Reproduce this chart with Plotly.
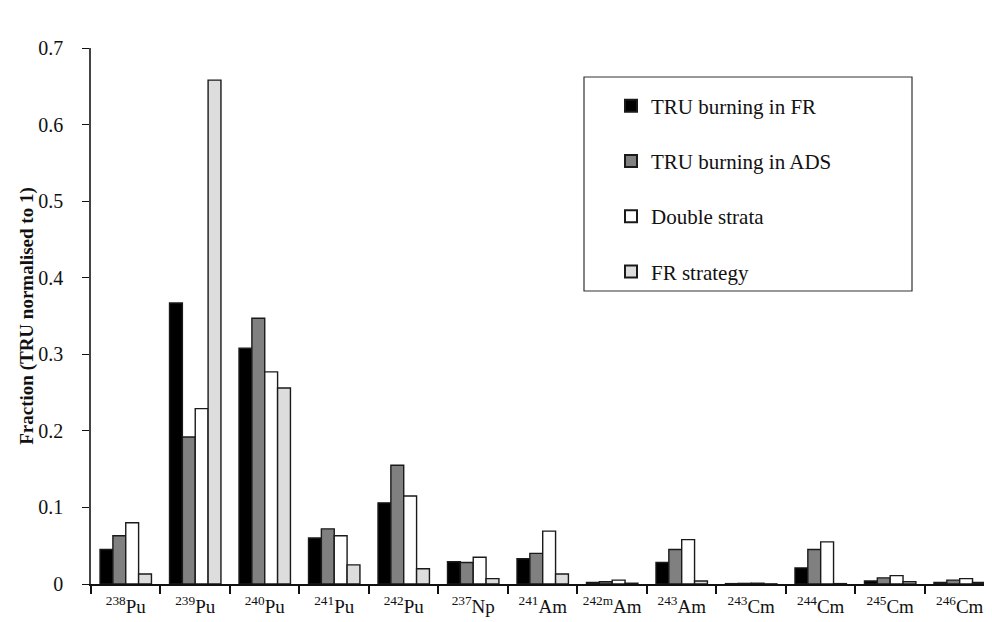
import plotly.graph_objects as go

# nuclides on the x axis
nuclides = ["<sup>238</sup>Pu", "<sup>239</sup>Pu", "<sup>240</sup>Pu", "<sup>241</sup>Pu",
            "<sup>242</sup>Pu", "<sup>237</sup>Np", "<sup>241</sup>Am", "<sup>242m</sup>Am",
            "<sup>243</sup>Am", "<sup>243</sup>Cm", "<sup>244</sup>Cm", "<sup>245</sup>Cm",
            "<sup>246</sup>Cm"]

# fractions (TRU normalised to 1)
tru_fr = [0.045, 0.367, 0.308, 0.060, 0.106, 0.029, 0.033, 0.002, 0.028, 0.0005, 0.021, 0.004, 0.002]
tru_ads = [0.063, 0.192, 0.347, 0.072, 0.155, 0.028, 0.040, 0.003, 0.045, 0.0008, 0.045, 0.008, 0.005]
double_strata = [0.080, 0.229, 0.277, 0.063, 0.115, 0.035, 0.069, 0.005, 0.058, 0.001, 0.055, 0.011, 0.007]
fr_strategy = [0.013, 0.658, 0.256, 0.025, 0.020, 0.007, 0.013, 0.001, 0.004, 0.0002, 0.0005, 0.003, 0.002]

series = [
    ("TRU burning in FR", tru_fr, "#000000"),
    ("TRU burning in ADS", tru_ads, "#808080"),
    ("Double strata", double_strata, "#ffffff"),
    ("FR strategy", fr_strategy, "#dddddd"),
]

FONT = "Liberation Serif, Times New Roman, serif"
PLOT_W = 893  # plot area width in px (976 - 83)

fig = go.Figure()
for name, vals, col in series:
    fig.add_trace(go.Bar(
        x=nuclides, y=vals, name=name, legendgroup=name,
        marker=dict(color=col, line=dict(color="#1a1a1a", width=1.4)),
    ))

fig.update_layout(
    width=976, height=614,
    margin=dict(l=83, r=0, t=40, b=38),
    paper_bgcolor="white", plot_bgcolor="white",
    font=dict(family=FONT, size=18, color="#111111"),
    barmode="group", bargap=0.26, bargroupgap=0,
    showlegend=True,
    legend=dict(
        x=520 / PLOT_W, y=0.930, xanchor="left", yanchor="top",
        bgcolor="rgba(0,0,0,0)", borderwidth=0,
        font=dict(family=FONT, size=21, color="#111111"),
        tracegroupgap=25, itemsizing="constant",
    ),
    xaxis=dict(
        type="category", range=[-0.5, 12.35],
        showline=True, linecolor="#111111", linewidth=1.5,
        ticks="outside", tickson="boundaries", ticklen=8, tickcolor="#111111", tickwidth=1.5,
        ticklabelstandoff=4, tickangle=0, automargin=False,
        showgrid=False, zeroline=False,
        tickfont=dict(family=FONT, size=19),
    ),
    yaxis=dict(
        range=[0, 0.7], tickvals=[0, 0.1, 0.2, 0.3, 0.4, 0.5, 0.6, 0.7],
        ticktext=["0", "0.1", "0.2", "0.3", "0.4", "0.5", "0.6", "0.7"],
        showline=True, linecolor="#444444", linewidth=1.5,
        ticks="outside", ticklen=7, tickcolor="#111111", tickwidth=1.2,
        ticklabelstandoff=15, automargin=False,
        showgrid=False, zeroline=False,
        tickfont=dict(family=FONT, size=20),
        title=dict(text="<b>Fraction (TRU normalised to 1)</b>",
                   font=dict(family=FONT, size=19), standoff=0),
    ),
)

# legend frame
fig.add_shape(type="rect", xref="paper", yref="paper",
              x0=(584 - 91) / PLOT_W, x1=(912 - 91) / PLOT_W,
              y0=(584 - 291) / 536, y1=(584 - 77) / 536,
              line=dict(color="#333333", width=1.2), fillcolor="rgba(0,0,0,0)")

fig.write_html("out.html")
